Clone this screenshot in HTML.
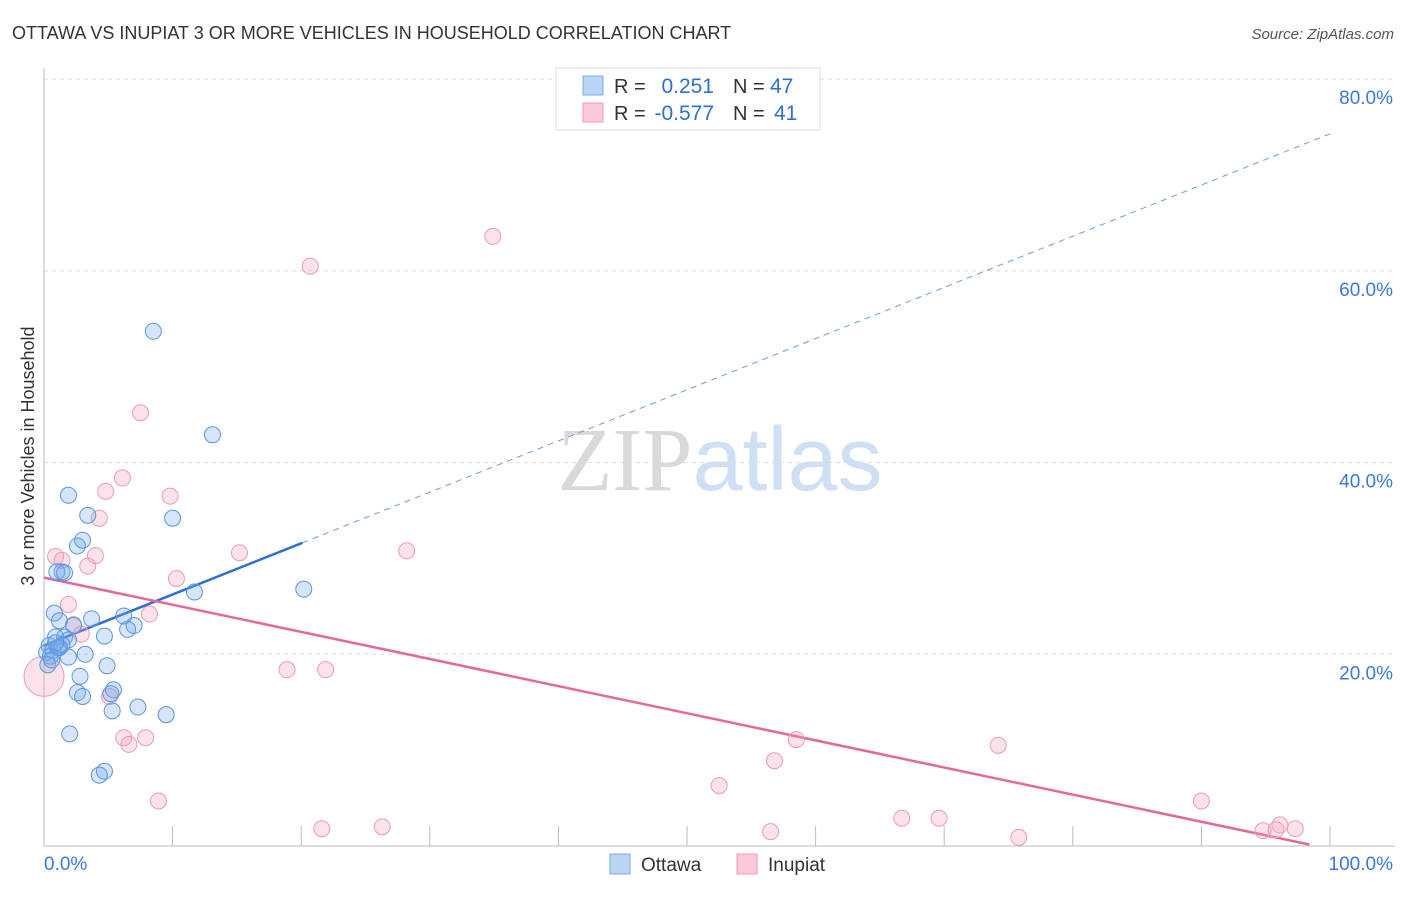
<!DOCTYPE html>
<html><head><meta charset="utf-8"><style>
body{margin:0;background:#fff;font-family:"Liberation Sans",sans-serif;}
svg text{font-family:"Liberation Sans",sans-serif;}
</style></head><body>
<svg id="chart" width="1406" height="892" viewBox="0 0 1406 892" xmlns="http://www.w3.org/2000/svg">
<text x="12" y="39" font-size="18" fill="#333">OTTAWA VS INUPIAT 3 OR MORE VEHICLES IN HOUSEHOLD CORRELATION CHART</text>
<text x="1394" y="39" font-size="15" fill="#555" text-anchor="end" font-style="italic">Source: ZipAtlas.com</text>
<text x="720" y="490" font-size="90" text-anchor="middle" fill="#e6e6e6"><tspan font-family="Liberation Serif" fill="#d9d9d9">ZIP</tspan><tspan fill="#cfe0f5">atlas</tspan></text>
<g id="grid"></g>
<g id="axes"></g>
<g id="trend"></g>
<g id="points"></g>
<text transform="translate(34,456) rotate(-90)" font-size="18" fill="#333" text-anchor="middle">3 or more Vehicles in Household</text>
<g>
<rect x="556" y="68" width="264" height="62" fill="#fff" stroke="#ddd"/>
<rect x="583" y="76" width="20" height="19" fill="#b9d4f5" stroke="#7aaee8"/>
<rect x="583" y="103" width="20" height="19" fill="#fcc9d8" stroke="#f09ab4"/>
<text x="614" y="93" font-size="20" fill="#333">R =</text>
<text x="714" y="93" font-size="21" fill="#2e6fd0" text-anchor="end">0.251</text>
<text x="733" y="93" font-size="20" fill="#333">N =</text>
<text x="770" y="93" font-size="21" fill="#2e6fd0">47</text>
<text x="614" y="120" font-size="20" fill="#333">R =</text>
<text x="714" y="120" font-size="21" fill="#2e6fd0" text-anchor="end">-0.577</text>
<text x="733" y="120" font-size="20" fill="#333">N =</text>
<text x="774" y="120" font-size="21" fill="#2e6fd0">41</text>
</g>
<g>
<rect x="610" y="854" width="20" height="20" fill="#b9d4f5" stroke="#7aaee8"/>
<text x="641" y="871" font-size="19" fill="#333">Ottawa</text>
<rect x="737" y="854" width="20" height="20" fill="#fcc9d8" stroke="#f09ab4"/>
<text x="768" y="871" font-size="19" fill="#333">Inupiat</text>
</g>
</svg>
<script>
const yTicks=[20,40,60,80];
const xTickVals=[0,10,20,30,40,50,60,70,80,90,100];
const xLabels=["0.0%","100.0%"];
const ottawaX=[8.5,13.1,1.9,3.4,10.0,3.0,2.6,1.4,1.0,1.6,11.7,20.2,0.8,3.7,6.2,7.0,6.5,1.2,2.3,4.7,1.6,1.9,0.9,0.4,0.7,1.2,0.2,0.5,3.2,1.9,4.9,2.8,5.4,5.2,2.6,3.0,5.3,7.3,9.5,2.0,4.7,4.3,0.3,1.1,1.4,0.9,0.6];
const ottawaY=[53.7,42.9,36.6,34.5,34.2,31.9,31.3,28.6,28.6,28.5,26.5,26.8,24.3,23.7,24.0,23.0,22.6,23.5,23.0,21.9,21.8,21.5,21.8,20.9,20.4,20.7,20.2,19.8,20.0,19.7,18.8,17.7,16.3,15.9,16.0,15.6,14.1,14.5,13.7,11.7,7.8,7.4,18.9,20.7,21.0,21.2,19.4];
const inupiatX=[34.9,20.7,7.5,6.1,4.8,9.8,4.3,15.2,28.2,0.9,1.4,4.0,3.4,10.3,1.9,8.2,2.9,2.3,18.9,21.9,0,5.1,6.2,6.6,7.9,8.9,58.5,74.2,56.8,52.5,90.0,21.6,26.3,56.5,66.7,69.6,75.8,94.8,96.1,95.8,97.3];
const inupiatY=[63.6,60.5,45.2,38.4,37.0,36.5,34.2,30.6,30.8,30.2,29.8,30.3,29.2,27.9,25.2,24.2,22.1,23.1,18.4,18.4,17.7,15.6,11.3,10.6,11.3,4.7,11.1,10.5,8.9,6.3,4.7,1.8,2.0,1.5,2.9,2.9,0.9,1.6,2.2,1.7,1.8];
const ottawaTrend=[20.9,0.534];
const inupiatTrend=[28.0,-0.283];
const NS="http://www.w3.org/2000/svg";
const X0=44,X1=1330,Y0=846,YSCALE=9.585;
function sx(v){return X0+(X1-X0)*v/100;}
function sy(v){return Y0-v*YSCALE;}
function mk(tag,attrs,parent){const e=document.createElementNS(NS,tag);for(const k in attrs)e.setAttribute(k,attrs[k]);parent.appendChild(e);return e;}
const grid=document.getElementById('grid'),axes=document.getElementById('axes'),trend=document.getElementById('trend'),pts=document.getElementById('points');
yTicks.forEach(t=>{
 const l=mk('line',{x1:44,x2:1395,y1:sy(t),y2:sy(t),stroke:'#ddd','stroke-dasharray':'4,4'},grid);
 
 
 const tx=mk('text',{x:1393,y:sy(t)+25,'font-size':19,fill:'#3b78d8','text-anchor':'end'},grid);
 tx.textContent=t.toFixed(1)+'%';
 
 
});
const ax=mk('line',{x1:44,x2:44,y1:68,y2:846,stroke:'#bbb'},axes);


const bx=mk('line',{x1:44,x2:1395,y1:846,y2:846,stroke:'#bbb'},axes);


xTickVals.forEach(t=>{
 if(t===0)return;
 const l=mk('line',{x1:sx(t),x2:sx(t),y1:826,y2:846,stroke:'#bbb'},axes);
 
 
});
const xl0=mk('text',{x:44,y:870,'font-size':19,fill:'#3b78d8'},axes);
xl0.textContent=xLabels[0];


const xl1=mk('text',{x:1393,y:870,'font-size':19,fill:'#3b78d8','text-anchor':'end'},axes);
xl1.textContent=xLabels[1];


function drawPts(X,Y,fill,stroke,name){
 X.forEach((x,i)=>{
  const big=(x===0&&name==='inupiat');
  const c=mk('circle',{cx:sx(x),cy:sy(Y[i]),r:big?20:8,fill:fill,stroke:stroke,'stroke-width':1},pts);
  
  
 });
}
drawPts(inupiatX,inupiatY,'rgba(246,160,190,0.3)','#ec9ab6','inupiat');
drawPts(ottawaX,ottawaY,'rgba(120,170,235,0.3)','#5b96e0','ottawa');
const bxEnd=20.1;
const t1=mk('line',{x1:sx(0),y1:sy(ottawaTrend[0]),x2:sx(bxEnd),y2:sy(ottawaTrend[0]+ottawaTrend[1]*bxEnd),stroke:'#2a6fd6','stroke-width':2.5},trend);


const t2=mk('line',{x1:sx(bxEnd),y1:sy(ottawaTrend[0]+ottawaTrend[1]*bxEnd),x2:sx(100),y2:sy(ottawaTrend[0]+ottawaTrend[1]*100),stroke:'#6a9de0','stroke-width':1,'stroke-dasharray':'6,5'},trend);


const pEnd=98.4;
const t3=mk('line',{x1:sx(0),y1:sy(inupiatTrend[0]),x2:sx(pEnd),y2:sy(inupiatTrend[0]+inupiatTrend[1]*pEnd),stroke:'#e5689a','stroke-width':2.5},trend);


</script>
</body></html>
